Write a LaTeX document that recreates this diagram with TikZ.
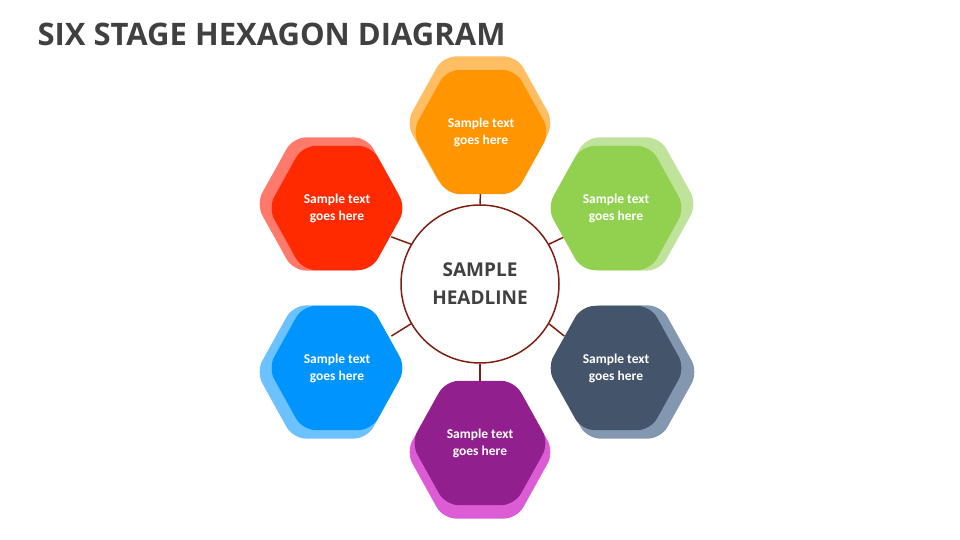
\documentclass[tikz,border=0pt]{standalone}
\usepackage{fontspec}
\usetikzlibrary{calc}
\setmainfont{Carlito}
\newfontfamily\osb{Open Sans}
\definecolor{lineRed}{HTML}{7F1F10}
\definecolor{ttl}{HTML}{404040}
\definecolor{oF}{HTML}{FF9500}\definecolor{oL}{HTML}{FFBE64}
\definecolor{gF}{HTML}{92D050}\definecolor{gL}{HTML}{BFE39A}
\definecolor{rF}{HTML}{FF2A00}\definecolor{rL}{HTML}{FF7A6A}
\definecolor{bF}{HTML}{0094FF}\definecolor{bL}{HTML}{6CC2FF}
\definecolor{dF}{HTML}{44546A}\definecolor{dL}{HTML}{8497B0}
\definecolor{pF}{HTML}{921F8E}\definecolor{pL}{HTML}{DC5CD6}
\begin{document}
\begin{tikzpicture}[x=1pt,y=1pt,
  conn/.style={draw=lineRed,line width=1.5pt},
  htext/.style={text=white,font=\fontsize{13.5}{17}\selectfont\bfseries,align=center}]
\useasboundingbox (0,0) rectangle (960,540);
\fill[white] (0,0) rectangle (960,540);
\newcommand{\hexa}[4]{%
  \fill[#4,rounded corners=13pt] (#1,#2) ++(0,-0.9*#3) -- ++(0.5*#3,0) -- ++(0.5*#3,0.9*#3) -- ++(-0.5*#3,0.9*#3) -- ++(-#3,0) -- ++(-0.5*#3,-0.9*#3) -- ++(0.5*#3,-0.9*#3) -- cycle;}
\node[anchor=west,text=ttl,font=\osb\fontsize{31}{34}\selectfont\bfseries] (title) at (34,506) {SIX STAGE HEXAGON DIAGRAM};
\node[circle,draw=lineRed,line width=1.5pt,minimum size=158pt,fill=white,inner sep=0] (c) at (480,256) {};
\coordinate (h1) at (481,408);
\coordinate (h2) at (616,332);
\coordinate (h3) at (616,172);
\coordinate (h4) at (480,97);
\coordinate (h5) at (337,172);
\coordinate (h6) at (337,332);
\foreach \a/\h in {90/h1,30/h2,-30/h3,-90/h4,-150/h5,150/h6}{
  \draw[conn] (c.\a) -- ($(c)!0.62!(\h)$);
}
\hexa{480}{417}{74}{oL}
\hexa{481}{408}{69}{oF}
\hexa{623}{336}{74}{gL}
\hexa{616}{332}{69}{gF}
\hexa{624}{168}{74}{dL}
\hexa{616}{172}{69}{dF}
\hexa{480}{88}{74}{pL}
\hexa{480}{97}{69}{pF}
\hexa{330}{168}{74}{bL}
\hexa{337}{172}{69}{bF}
\hexa{330}{336}{74}{rL}
\hexa{337}{332}{69}{rF}
\foreach \h/\n in {h1/t1,h2/t2,h3/t3,h4/t4,h5/t5,h6/t6}{
  \node[htext] (\n) at (\h) {Sample text\\goes here};
}
\node[text=ttl,font=\osb\fontsize{19}{28}\selectfont\bfseries,align=center] (head) at (c) {SAMPLE\\HEADLINE};
\end{tikzpicture}
\end{document}
